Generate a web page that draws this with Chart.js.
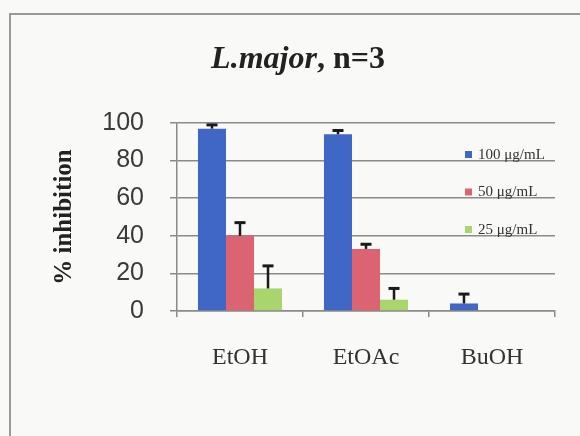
<!DOCTYPE html>
<html lang="en">
<head>
  <meta charset="UTF-8">
  <title>L.major inhibition</title>
  <script src="https://cdn.jsdelivr.net/npm/chart.js@4"></script>
  <style>
    body { margin: 0; background: #f9f9f7; }
    #wrap { width: 580px; height: 436px; }
  </style>
</head>
<body>
  <div id="wrap"><canvas id="chart" width="580" height="436"></canvas></div>

  <script>
    // data
    const categories = ['EtOH', 'EtOAc', 'BuOH'];
    const seriesLabels = ['100 μg/mL', '50 μg/mL', '25 μg/mL'];
    const v100 = [97, 94, 4];
    const v50 = [40, 33, null];
    const v25 = [12, 6, null];
    const err100 = [2, 2, 5];
    const err50 = [7, 2.5, null];
    const err25 = [12, 6, null];
    const yTicks = [0, 20, 40, 60, 80, 100];

    const colors = ['#4067c6', '#dc6472', '#a8d56e'];
    const errors = [err100, err50, err25];

    // frame + background
    const framePlugin = {
      id: 'frame',
      beforeDraw(chart) {
        const ctx = chart.ctx;
        ctx.save();
        ctx.fillStyle = '#f9f9f7';
        ctx.fillRect(0, 0, chart.width, chart.height);
        ctx.strokeStyle = '#9a9a9a';
        ctx.lineWidth = 2;
        ctx.strokeRect(10, 14, 600, 460);
        ctx.restore();
      }
    };

    // title with italic species name
    const titlePlugin = {
      id: 'mixedTitle',
      afterDraw(chart) {
        const ctx = chart.ctx;
        const a = 'L.major';
        const b = ', n=3';
        const f = '32px "Liberation Serif"';
        ctx.save();
        ctx.fillStyle = '#222';
        ctx.textBaseline = 'middle';
        ctx.font = 'italic bold ' + f;
        const wa = ctx.measureText(a).width;
        ctx.font = 'bold ' + f;
        const wb = ctx.measureText(b).width;
        const x0 = 298 - (wa + wb) / 2;
        ctx.font = 'italic bold ' + f;
        ctx.fillText(a, x0, 60);
        ctx.font = 'bold ' + f;
        ctx.fillText(b, x0 + wa, 60);
        ctx.restore();
      }
    };

    // one-sided error bars (upwards)
    const errorBarPlugin = {
      id: 'errorBars',
      afterDatasetsDraw(chart) {
        const ctx = chart.ctx;
        const yScale = chart.scales.y;
        ctx.save();
        ctx.strokeStyle = '#1a1a1a';
        chart.data.datasets.forEach((ds, i) => {
          const meta = chart.getDatasetMeta(i);
          meta.data.forEach((bar, j) => {
            const v = ds.data[j];
            const e = errors[i][j];
            if (v == null || e == null) return;
            const yTop = yScale.getPixelForValue(v + e);
            ctx.lineWidth = 2.5;
            ctx.beginPath();
            ctx.moveTo(bar.x, bar.y);
            ctx.lineTo(bar.x, yTop);
            ctx.stroke();
            ctx.lineWidth = 3;
            ctx.beginPath();
            ctx.moveTo(bar.x - 5.5, yTop);
            ctx.lineTo(bar.x + 5.5, yTop);
            ctx.stroke();
          });
        });
        ctx.restore();
      }
    };

    // legend drawn inside the plot area, right side
    const legendPlugin = {
      id: 'insideLegend',
      afterDraw(chart) {
        const ctx = chart.ctx;
        ctx.save();
        ctx.font = '15px "Liberation Serif"';
        ctx.textBaseline = 'middle';
        chart.data.datasets.forEach((ds, i) => {
          const y = 155 + i * 37.5;
          ctx.fillStyle = colors[i];
          ctx.fillRect(465, y - 4, 7, 7);
          ctx.fillStyle = '#333';
          ctx.fillText(ds.label, 478, y);
        });
        ctx.restore();
      }
    };

    new Chart(document.getElementById('chart'), {
      type: 'bar',
      data: {
        labels: categories,
        datasets: [
          { label: seriesLabels[0], data: v100, backgroundColor: colors[0] },
          { label: seriesLabels[1], data: v50, backgroundColor: colors[1] },
          { label: seriesLabels[2], data: v25, backgroundColor: colors[2] }
        ]
      },
      options: {
        responsive: false,
        animation: false,
        layout: { padding: { top: 123, right: 25, bottom: 0, left: 0 } },
        datasets: { bar: { categoryPercentage: 0.667, barPercentage: 1.0 } },
        plugins: {
          legend: { display: false },
          title: { display: false },
          tooltip: { enabled: false }
        },
        scales: {
          x: {
            afterFit(scale) { scale.height = 125; },
            grid: { drawOnChartArea: false, offset: true, tickLength: 6, color: '#8a8a8a', lineWidth: 1.5 },
            border: { color: '#8a8a8a', width: 1.5 },
            ticks: { color: '#333', padding: 26, font: { family: 'Liberation Serif', size: 24 } }
          },
          y: {
            min: 0,
            max: 100,
            afterFit(scale) { scale.width = 177; },
            afterBuildTicks(scale) { scale.ticks = yTicks.map(v => ({ value: v })); },
            grid: { color: '#8a8a8a', lineWidth: 1.5, tickLength: 7 },
            border: { color: '#8a8a8a', width: 1.5 },
            ticks: { color: '#3a3a3a', padding: 26, font: { family: 'Liberation Sans', size: 25 } },
            title: {
              display: true,
              text: '% inhibition',
              color: '#222',
              padding: { top: 50, bottom: 0 },
              font: { family: 'Liberation Serif', size: 25, weight: 'bold' }
            }
          }
        }
      },
      plugins: [framePlugin, errorBarPlugin, legendPlugin, titlePlugin]
    });
  </script>
</body>
</html>
